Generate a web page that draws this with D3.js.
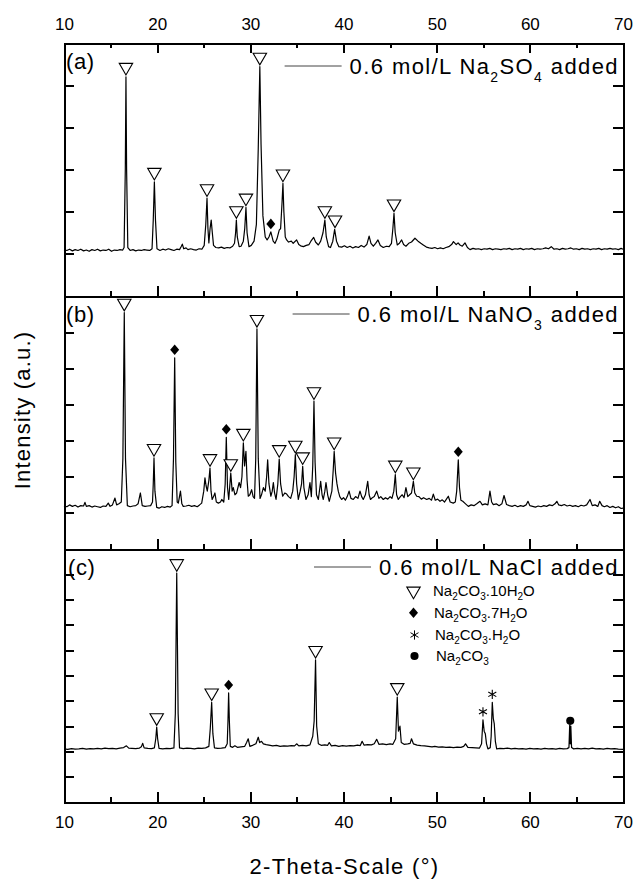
<!DOCTYPE html>
<meta charset="utf-8">
<script src="https://d3js.org/d3.v7.min.js"></script>
<style>
body { margin: 0; background: #fff; }
text { font-family: Arial, "Liberation Sans", Helvetica, sans-serif; fill: #000; }
.frame path, .frame line { stroke: #000; stroke-width: 2; shape-rendering: crispEdges; }
.frame path { stroke-linecap: square; }
</style>
<div id="chart"></div>
<script>

// 2-theta (deg), intensity (a.u.)
const patternA = [[10.0,1.10],[10.3,1.08],[10.6,1.11],[10.9,1.07],[11.2,1.10],[11.5,1.08],[11.8,1.11],[12.1,1.07],[12.4,1.09],[12.7,1.06],[13.0,1.10],[13.3,1.08],[13.6,1.11],[13.9,1.07],[14.2,1.09],[14.5,1.08],[14.8,1.11],[15.1,1.06],[15.4,1.09],[15.7,1.08],[16.0,1.10],[16.3,1.09],
  [16.45,1.15],[16.58,3.0],[16.65,5.2],[16.72,3.0],[16.85,1.15],[17.1,1.08],[17.4,1.10],[17.7,1.07],[18.0,1.09],[18.3,1.08],[18.6,1.10],[18.9,1.09],[19.2,1.08],[19.45,1.12],
  [19.58,1.8],[19.7,2.71],[19.82,1.8],[19.98,1.12],[20.3,1.08],[20.6,1.11],[20.9,1.09],[21.2,1.12],[21.5,1.10],[21.8,1.08],[22.1,1.11],[22.4,1.10],[22.6,1.18],[22.7,1.23],[22.85,1.12],[23.1,1.14],[23.3,1.10],[23.6,1.12],[23.9,1.10],[24.2,1.09],[24.5,1.12],[24.8,1.11],[25.05,1.2],
  [25.22,1.7],[25.35,2.32],[25.45,1.6],[25.55,1.26],[25.68,1.6],[25.8,1.8],[25.92,1.5],[26.05,1.2],[26.3,1.15],[26.6,1.14],[26.9,1.16],[27.2,1.13],[27.5,1.15],[27.8,1.14],[28.1,1.18],[28.3,1.25],
  [28.42,1.5],[28.5,1.8],[28.6,1.4],[28.8,1.17],[29.0,1.18],[29.25,1.3],[29.4,1.6],[29.53,2.1],[29.65,1.5],[29.85,1.17],[30.1,1.2],[30.4,1.3],[30.65,1.7],[30.85,3.5],[31.02,5.44],[31.15,3.6],[31.35,1.9],[31.6,1.4],[31.8,1.33],[32.0,1.4],[32.2,1.52],[32.45,1.3],[32.65,1.25],[32.85,1.35],[33.1,1.56],[33.25,1.6],[33.4,2.2],[33.5,2.67],[33.6,2.0],[33.75,1.4],[33.9,1.33],[34.1,1.28],[34.4,1.30],[34.6,1.25],[34.97,1.33],[35.2,1.22],[35.4,1.19],[35.7,1.17],[36.0,1.2],[36.3,1.22],[36.5,1.3],[36.8,1.39],[37.0,1.28],[37.3,1.21],[37.55,1.3],[37.8,1.5],[38.0,1.8],[38.15,1.4],[38.4,1.17],[38.6,1.15],[38.85,1.3],[39.05,1.58],[39.25,1.3],[39.5,1.17],[39.8,1.16],
  [40.1,1.19],[40.4,1.15],[40.7,1.18],[41.0,1.14],[41.3,1.17],[41.6,1.15],[41.9,1.20],[42.2,1.16],[42.5,1.22],[42.75,1.42],[42.95,1.25],[43.2,1.18],[43.45,1.25],[43.7,1.33],[43.95,1.2],[44.27,1.15],[44.6,1.18],[44.9,1.17],[45.15,1.25],[45.3,1.6],[45.42,1.96],[45.55,1.5],[45.77,1.21],[46.0,1.25],[46.24,1.33],[46.45,1.22],[46.7,1.18],[47.0,1.25],[47.3,1.28],[47.67,1.37],[48.0,1.3],[48.3,1.25],[48.56,1.21],[48.9,1.16],[49.2,1.14],[49.5,1.13],[49.8,1.15],
  [50.1,1.12],[50.4,1.14],[50.7,1.12],[51.0,1.15],[51.3,1.17],[51.6,1.22],[51.8,1.29],[52.1,1.22],[52.3,1.26],[52.5,1.21],[52.75,1.18],[53.04,1.26],[53.3,1.15],[53.58,1.10],[53.9,1.13],[54.2,1.11],[54.5,1.12],[54.8,1.10],[55.1,1.12],[55.4,1.11],[55.7,1.13],[56.0,1.10],[56.3,1.12],[56.6,1.11],[56.9,1.10],[57.2,1.12],[57.5,1.11],[57.8,1.13],[58.1,1.10],[58.4,1.12],[58.7,1.11],[59.0,1.13],[59.3,1.10],[59.6,1.12],[59.9,1.11],
  [60.2,1.13],[60.5,1.10],[60.8,1.12],[61.1,1.11],[61.4,1.12],[61.7,1.14],[62.0,1.12],[62.3,1.17],[62.6,1.11],[62.9,1.12],[63.2,1.10],[63.5,1.13],[63.8,1.11],[64.1,1.12],[64.4,1.14],[64.7,1.11],[65.0,1.12],[65.3,1.10],[65.6,1.13],[65.9,1.11],[66.2,1.12],[66.5,1.10],[66.8,1.12],[67.1,1.11],[67.4,1.13],[67.7,1.10],[68.0,1.12],[68.3,1.11],[68.6,1.13],[68.9,1.11],[69.2,1.12],[69.5,1.10],[69.8,1.13],[70.0,1.11]];

const patternB = [[10.0,1.2],[10.3,1.17],[10.6,1.22],[10.9,1.18],[11.2,1.21],[11.5,1.16],[11.8,1.2],[12.1,1.19],[12.25,1.29],[12.4,1.18],[12.7,1.2],[13.0,1.16],[13.3,1.19],[13.6,1.17],[13.9,1.15],[14.2,1.19],[14.5,1.18],[14.75,1.27],[14.95,1.18],[15.2,1.22],[15.47,1.41],[15.65,1.22],[15.9,1.25],[16.15,1.3],
  [16.32,2.5],[16.47,6.54],[16.6,2.5],[16.8,1.2],[17.1,1.17],[17.4,1.19],[17.7,1.2],[17.95,1.25],[18.2,1.55],[18.4,1.2],[18.7,1.18],[19.0,1.19],[19.3,1.2],[19.5,1.3],[19.58,1.8],[19.66,2.52],[19.76,1.6],[19.95,1.15],
  [20.2,1.13],[20.5,1.17],[20.8,1.15],[21.1,1.18],[21.4,1.16],[21.6,1.2],[21.75,2.5],[21.88,5.29],[22.0,2.4],[22.15,1.3],[22.27,1.27],[22.5,1.6],[22.65,1.25],[22.8,1.18],[23.1,1.19],[23.4,1.21],[23.7,1.18],[24.0,1.2],[24.3,1.17],[24.55,1.22],[24.78,1.27],
  [25.0,1.6],[25.13,1.97],[25.25,1.75],[25.38,1.6],[25.55,1.9],[25.67,2.24],[25.78,1.6],[25.9,1.37],[26.05,1.45],[26.2,1.55],[26.35,1.3],[26.57,1.27],[26.8,1.3],[26.93,1.37],[27.15,1.3],[27.3,1.8],[27.42,3.09],[27.55,1.7],[27.68,1.37],[27.9,2.1],[28.05,1.6],[28.17,1.7],[28.35,1.5],[28.53,1.55],[28.8,1.84],[28.95,1.7],[29.1,2.0],[29.25,2.94],[29.38,2.3],[29.53,2.7],[29.65,1.9],[29.78,1.46],[29.95,1.5],
  [30.14,1.64],[30.3,1.45],[30.45,1.4],[30.58,2.5],[30.71,6.09],[30.85,2.5],[31.04,1.4],[31.2,1.5],[31.4,1.7],[31.6,1.6],[31.75,2.0],[31.86,2.47],[32.0,1.8],[32.2,1.46],[32.35,1.6],[32.47,1.84],[32.6,1.55],[32.76,1.37],[32.95,1.8],[33.1,2.49],[33.25,1.8],[33.47,1.46],[33.7,1.55],[33.9,1.52],[34.1,1.45],[34.33,1.4],[34.55,1.6],[34.7,2.0],[34.83,2.61],[34.97,1.8],
  [35.15,1.37],[35.35,1.6],[35.5,1.8],[35.62,2.29],[35.75,1.7],[35.97,1.37],[36.2,1.5],[36.4,1.84],[36.55,1.45],[36.7,2.3],[36.83,4.09],[36.95,2.4],[37.1,1.5],[37.3,1.37],[37.55,1.87],[37.7,1.5],[37.83,1.37],[38.0,1.6],[38.12,1.84],[38.3,1.5],[38.47,1.32],[38.75,1.6],[38.9,2.2],[39.0,2.7],[39.15,2.1],[39.3,1.8],[39.44,1.6],[39.6,1.45],[39.8,1.37],
  [40.0,1.42],[40.2,1.35],[40.4,1.45],[40.6,1.6],[40.8,1.4],[41.05,1.37],[41.3,1.45],[41.55,1.4],[41.77,1.6],[41.95,1.45],[42.12,1.37],[42.35,1.5],[42.6,1.87],[42.75,1.5],[42.9,1.37],[43.1,1.42],[43.3,1.45],[43.56,1.6],[43.8,1.4],[44.0,1.45],[44.27,1.37],[44.5,1.42],[44.75,1.38],
  [45.0,1.45],[45.2,1.4],[45.4,1.6],[45.56,2.06],[45.7,1.5],[45.88,1.37],[46.1,1.45],[46.3,1.5],[46.5,1.42],[46.7,1.7],[46.9,1.45],[47.1,1.5],[47.3,1.55],[47.5,1.87],[47.65,1.55],[47.86,1.46],[48.1,1.45],[48.35,1.38],[48.6,1.42],[48.93,1.37],[49.2,1.4],[49.45,1.35],[49.64,1.52],[49.85,1.35],
  [50.1,1.38],[50.36,1.32],[50.6,1.36],[50.85,1.3],[51.05,1.38],[51.25,1.46],[51.45,1.3],[51.78,1.27],[52.0,1.3],[52.15,1.6],[52.32,2.47],[52.45,1.7],[52.6,1.35],[52.8,1.32],[53.1,1.25],[53.4,1.18],[53.7,1.22],[54.0,1.2],[54.3,1.25],[54.65,1.32],[54.9,1.22],
  [55.2,1.25],[55.5,1.22],[55.72,1.6],[55.9,1.3],[56.08,1.23],[56.4,1.25],[56.7,1.2],[57.0,1.25],[57.23,1.48],[57.5,1.23],[57.8,1.2],[58.1,1.18],[58.4,1.21],[58.7,1.17],[59.0,1.2],[59.3,1.18],[59.6,1.22],[59.8,1.32],
  [60.0,1.2],[60.3,1.18],[60.6,1.16],[60.9,1.19],[61.2,1.17],[61.5,1.2],[61.8,1.18],[62.1,1.22],[62.4,1.2],[62.7,1.25],[62.9,1.32],[63.1,1.22],[63.4,1.2],[63.7,1.23],[64.0,1.19],[64.3,1.21],[64.6,1.18],[64.9,1.2],
  [65.2,1.17],[65.5,1.21],[65.8,1.19],[66.1,1.22],[66.46,1.37],[66.7,1.2],[67.0,1.22],[67.3,1.18],[67.5,1.32],[67.75,1.2],[68.0,1.17],[68.3,1.2],[68.6,1.15],[68.9,1.18],[69.2,1.14],[69.5,1.17],[69.8,1.12],[70.0,1.13]];

const patternC = [[10.0,2.1],[10.4,2.08],[10.8,2.11],[11.2,2.09],[11.6,2.1],[12.0,2.12],[12.4,2.09],[12.8,2.11],[13.2,2.1],[13.6,2.12],[14.0,2.1],[14.4,2.13],[14.8,2.11],[15.2,2.12],[15.6,2.1],[16.0,2.13],[16.4,2.15],[16.7,2.22],[16.95,2.13],[17.3,2.12],[17.7,2.11],[18.1,2.13],[18.3,2.18],[18.45,2.32],[18.6,2.14],[19.0,2.12],[19.4,2.11],[19.7,2.14],
  [19.85,2.5],[19.95,2.96],[20.05,2.5],[20.2,2.12],[20.6,2.1],[21.0,2.12],[21.4,2.11],[21.8,2.14],[21.95,3.5],[22.1,9.05],[22.25,3.5],[22.4,2.14],[22.8,2.11],[23.2,2.13],[23.6,2.12],[24.0,2.1],[24.4,2.13],[24.8,2.12],[25.2,2.14],[25.55,2.2],[25.7,2.9],[25.85,3.94],[25.98,2.7],[26.15,2.14],[26.5,2.12],[26.9,2.13],[27.3,2.15],
  [27.52,2.3],[27.6,3.2],[27.67,4.31],[27.75,3.2],[27.85,2.2],[28.1,2.16],[28.34,2.22],[28.6,2.16],[29.0,2.18],[29.4,2.2],[29.6,2.35],[29.77,2.5],[29.95,2.2],[30.3,2.25],[30.6,2.3],[30.85,2.56],[31.0,2.35],[31.2,2.4],[31.4,2.3],[31.7,2.27],[32.0,2.25],[32.4,2.22],[32.8,2.24],[33.2,2.2],[33.6,2.22],[34.0,2.21],[34.4,2.23],[34.75,2.22],[34.97,2.3],[35.2,2.22],[35.6,2.24],[36.0,2.22],[36.4,2.26],
  [36.7,2.6],[36.85,3.2],[37.0,5.62],[37.12,3.0],[37.3,2.3],[37.6,2.24],[38.0,2.26],[38.3,2.24],[38.47,2.35],[38.7,2.22],[39.1,2.24],[39.5,2.2],[39.9,2.23],[40.3,2.21],[40.7,2.23],[41.1,2.22],[41.5,2.25],[41.8,2.23],[42.0,2.4],[42.2,2.25],[42.6,2.27],[43.0,2.26],[43.3,2.3],[43.56,2.48],[43.8,2.28],[44.2,2.3],[44.6,2.27],[45.0,2.3],[45.3,2.28],
  [45.6,2.5],[45.77,4.15],[45.9,2.8],[46.06,3.0],[46.2,2.35],[46.5,2.28],[46.9,2.3],[47.15,2.32],[47.3,2.5],[47.5,2.3],[47.9,2.25],[48.3,2.23],[48.7,2.22],[49.1,2.2],[49.5,2.18],[49.8,2.2],[50.2,2.17],[50.6,2.18],[51.0,2.16],[51.4,2.17],[51.8,2.15],[52.2,2.17],[52.6,2.16],[52.9,2.2],[53.1,2.3],[53.35,2.16],[53.8,2.15],[54.2,2.14],[54.6,2.13],
  [54.82,2.3],[54.97,3.25],[55.1,2.8],[55.22,2.7],[55.35,2.3],[55.5,2.1],[55.75,2.15],[55.85,2.6],[55.97,3.94],[56.08,3.3],[56.18,3.1],[56.3,2.4],[56.44,2.1],[56.8,2.12],[57.2,2.11],[57.6,2.13],[58.0,2.1],[58.4,2.12],[58.8,2.1],[59.2,2.11],[59.6,2.09],[60.0,2.12],[60.4,2.1],[60.8,2.11],[61.2,2.09],[61.6,2.12],[62.0,2.1],[62.4,2.11],[62.8,2.09],[63.2,2.12],[63.6,2.1],[64.0,2.11],
  [64.2,2.15],[64.28,3.05],[64.34,2.3],[64.4,3.0],[64.48,2.15],[64.7,2.1],[65.1,2.12],[65.5,2.1],[65.9,2.12],[66.3,2.1],[66.7,2.13],[67.1,2.1],[67.5,2.11],[67.9,2.09],[68.3,2.12],[68.7,2.1],[69.1,2.11],[69.5,2.09],[70.0,2.08]];

// phase markers: [2-theta, peak top]
const decaA = [[16.65,5.2],[19.7,2.71],[25.35,2.32],[28.5,1.8],[29.53,2.1],[31.02,5.44],[33.5,2.67],[38.0,1.8],[39.09,1.58],[45.42,1.96]];
const heptaA = [[32.2,1.52]];
const decaB = [[16.47,6.54],[19.66,2.52],[25.67,2.24],[27.9,2.1],[29.25,2.94],[30.71,6.09],[33.1,2.49],[34.83,2.61],[35.62,2.29],[36.83,4.09],[39.0,2.7],[45.56,2.06],[47.5,1.87]];
const heptaB = [[21.88,5.29],[27.42,3.09],[52.32,2.47]];
const decaC = [[19.95,2.96],[22.1,9.05],[25.85,3.94],[37.0,5.62],[45.77,4.15]];
const heptaC = [[27.67,4.31]];
const monoC = [[54.97,3.25],[55.97,3.94]];
const anhydC = [[64.34,3.05]];

const panelLabels = ["(a)", "(b)", "(c)"];
const panelMax = [6, 7, 10];
const sampleNames = [
  [["0.6 mol/L Na"], ["2", 1], ["SO"], ["4", 1], [" added"]],
  [["0.6 mol/L NaNO"], ["3", 1], [" added"]],
  [["0.6 mol/L NaCl added"]]
];
const phaseNames = [
  [["Na"], ["2", 1], ["CO"], ["3", 1], [".10H"], ["2", 1], ["O"]],
  [["Na"], ["2", 1], ["CO"], ["3", 1], [".7H"], ["2", 1], ["O"]],
  [["Na"], ["2", 1], ["CO"], ["3", 1], [".H"], ["2", 1], ["O"]],
  [["Na"], ["2", 1], ["CO"], ["3", 1]]
];
const xTicks = [10, 20, 30, 40, 50, 60, 70];
const xMinor = [15, 25, 35, 45, 55, 65];

const W = 636, H = 879;
const padL = 64, padR = 623, padT = 43, panelH = 253;

const svg = d3.select("#chart").append("svg")
  .attr("width", W).attr("height", H);

const x = d3.scaleLinear().domain([10, 70]).range([padL, padR]);

const patterns = [patternA, patternB, patternC];
const deca = [decaA, decaB, decaC];
const hepta = [heptaA, heptaB, heptaC];

// text with subscripts
function richText(sel, parts, subSize, shift) {
  let prevSub = false;
  parts.forEach(p => {
    const t = sel.append("tspan").text(p[0]);
    if (p[1]) t.attr("font-size", subSize).attr("dy", shift);
    else if (prevSub) t.attr("dy", -shift);
    prevSub = !!p[1];
  });
}

// rhombus for the heptahydrate
const rhombus = d3.symbol(d3.symbolSquare, 56)();
const rhombusT = " scale(0.85,1) rotate(45)";

const line = d3.line().x(d => x(d[0]));

patterns.forEach((data, i) => {
  const y0 = padT + i * panelH;
  const y = d3.scaleLinear().domain([0, panelMax[i]]).range([y0 + panelH, y0]);
  const g = svg.append("g");

  // data line
  g.append("path")
    .datum(data)
    .attr("fill", "none")
    .attr("stroke", "#000")
    .attr("stroke-width", 1.2)
    .attr("stroke-linejoin", "round")
    .attr("d", line.y(d => y(d[1])));

  // frame + ticks
  const yt = d3.range(0, panelMax[i] + 1);
  g.append("g").attr("class", "frame")
    .attr("transform", `translate(${padL},0)`)
    .call(d3.axisLeft(y).tickValues(yt).tickSize(-10).tickSizeOuter(0).tickFormat(""));
  g.append("g").attr("class", "frame")
    .attr("transform", `translate(${padR},0)`)
    .call(d3.axisRight(y).tickValues(yt).tickSize(-10).tickSizeOuter(0).tickFormat(""));

  const bottom = g.append("g").attr("class", "frame")
    .attr("transform", `translate(0,${y0 + panelH})`);
  bottom.call(d3.axisBottom(x).tickValues(xTicks).tickSize(-10).tickSizeOuter(0)
      .tickPadding(14).tickFormat(i === 2 ? d3.format("d") : ""));
  bottom.append("g")
    .call(d3.axisBottom(x).tickValues(xMinor).tickSize(-5).tickSizeOuter(0).tickFormat(""))
    .select(".domain").remove();
  if (i === 0) {
    const topAx = g.append("g").attr("class", "frame")
      .attr("transform", `translate(0,${padT})`);
    topAx.call(d3.axisTop(x).tickValues(xTicks).tickSize(-10).tickSizeOuter(0)
        .tickPadding(13).tickFormat(d3.format("d")));
    topAx.append("g")
      .call(d3.axisTop(x).tickValues(xMinor).tickSize(-5).tickSizeOuter(0).tickFormat(""))
      .select(".domain").remove();
  }

  // phase markers
  g.selectAll(".deca").data(deca[i]).join("path")
    .attr("d", d3.symbol(d3.symbolTriangle, 78))
    .attr("transform", d => `translate(${x(d[0])},${y(d[1]) - 9.5}) rotate(180)`)
    .attr("fill", "#fff").attr("stroke", "#000").attr("stroke-width", 1.1);
  g.selectAll(".hepta").data(hepta[i]).join("path")
    .attr("d", rhombus)
    .attr("transform", d => `translate(${x(d[0])},${y(d[1]) - 8})` + rhombusT)
    .attr("fill", "#000");
  if (i === 2) {
    g.selectAll(".mono").data(monoC).join("path")
      .attr("d", d3.symbol(d3.symbolAsterisk, 60))
      .attr("transform", d => `translate(${x(d[0])},${y(d[1]) - 8})`)
      .attr("fill", "none").attr("stroke", "#000").attr("stroke-width", 1.1);
    g.selectAll(".anhyd").data(anhydC).join("path")
      .attr("d", d3.symbol(d3.symbolCircle, 52))
      .attr("transform", d => `translate(${x(d[0])},${y(d[1]) - 4})`)
      .attr("fill", "#000");
  }

  // panel label
  g.append("text")
    .attr("x", padL + 2 + (i === 2 ? 2 : 0))
    .attr("y", y0 + 26)
    .attr("font-size", 22)
    .attr("letter-spacing", 0.6)
    .text(panelLabels[i]);

  // sample legend
  const ly = y0 + [23, 18, 18][i];
  const lt = g.append("text")
    .attr("x", padR - 4)
    .attr("y", ly + 8)
    .attr("font-size", 22)
    .attr("letter-spacing", 1.4)
    .attr("text-anchor", "end");
  richText(lt, sampleNames[i], 14, 8);
  const bb = lt.node().getBBox();
  g.append("line")
    .attr("x1", bb.x - 65).attr("x2", bb.x - 8)
    .attr("y1", ly).attr("y2", ly)
    .attr("stroke", "#444").attr("stroke-width", 1);
});

// phase key in panel (c)
const keyY = [591, 612.7, 635, 656];
const keyX = 413.5;
const keySym = [d3.symbolTriangle, null, d3.symbolAsterisk, d3.symbolCircle];
const keySize = [78, 0, 60, 52];
phaseNames.forEach((p, k) => {
  const s = svg.append("path")
    .attr("d", k === 1 ? rhombus : d3.symbol(keySym[k], keySize[k]))
    .attr("transform", `translate(${keyX + (k > 1 ? 1 : 0)},${keyY[k]})` +
      (k === 0 ? " rotate(180)" : k === 1 ? rhombusT : ""));
  if (k === 0) s.attr("fill", "#fff").attr("stroke", "#000").attr("stroke-width", 1.1);
  else if (k === 2) s.attr("fill", "none").attr("stroke", "#000").attr("stroke-width", 1);
  else s.attr("fill", "#000");
  const t = svg.append("text")
    .attr("x", 433 + k)
    .attr("y", keyY[k] + 5)
    .attr("font-size", 15);
  richText(t, p, 10, 4);
});

// tick label font
svg.selectAll(".frame text").attr("font-size", 17).attr("fill", "#000")
  .attr("font-family", 'Arial, "Liberation Sans", sans-serif');

// axis titles
svg.append("text")
  .attr("x", (padL + padR) / 2 + 1)
  .attr("y", 874)
  .attr("text-anchor", "middle")
  .attr("font-size", 22)
  .attr("letter-spacing", 1.3)
  .text("2-Theta-Scale (\u00b0)");

svg.append("text")
  .attr("transform", "translate(30,410) rotate(-90)")
  .attr("text-anchor", "middle")
  .attr("font-size", 22)
  .attr("letter-spacing", 1.2)
  .text("Intensity (a.u.)");

</script>
